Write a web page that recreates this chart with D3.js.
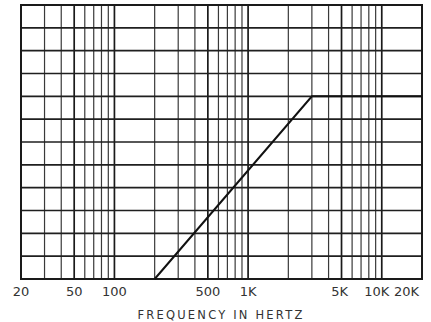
<!DOCTYPE html>
<html><head><meta charset="utf-8">
<script src="https://cdn.jsdelivr.net/npm/d3@7"></script>
<style>html,body{margin:0;padding:0;background:#fff;}svg{display:block;}</style>
</head><body>
<script>
const gridFreqs = [20,30,40,50,60,70,80,90,100,200,300,400,500,600,700,800,900,1000,2000,3000,4000,5000,6000,7000,8000,9000,10000,20000];
const labelFreqs = [20,50,100,500,1000,5000,10000,20000];
const labelTexts = ["20","50","100","500","1K","5K","10K","20K"];
const gridLevels = [0,1,2,3,4,5,6,7,8,9,10,11,12];
const curveFreq = [200,3000,20000];
const curveLevel = [0,8,8];
const axisTitle = "FREQUENCY IN HERTZ";

const W = 431, H = 322;
const m = {left:21, right:9, top:5, bottom:43};
const svg = d3.select("body").append("svg").attr("width",W).attr("height",H);
const x = d3.scaleLog().domain([20,20000]).range([m.left, W-m.right]);
const y = d3.scaleLinear().domain([0,12]).range([H-m.bottom, m.top]);

const g = svg.append("g");
// vertical grid
g.selectAll("line.v").data(gridFreqs).enter().append("line")
  .attr("x1",d=>x(d)).attr("x2",d=>x(d))
  .attr("y1",y(0)).attr("y2",y(12))
  .attr("stroke",d=>labelFreqs.includes(d)?"#1a1a1a":"#3a3a3a")
  .attr("stroke-width",d=>labelFreqs.includes(d)?1.7:1.2);
// horizontal grid
g.selectAll("line.h").data(gridLevels).enter().append("line")
  .attr("x1",x(20)).attr("x2",x(20000))
  .attr("y1",d=>y(d)).attr("y2",d=>y(d))
  .attr("stroke","#1f1f1f").attr("stroke-width",1.6);
// border
svg.append("rect").attr("x",x(20)).attr("y",y(12))
  .attr("width",x(20000)-x(20)).attr("height",y(0)-y(12))
  .attr("fill","none").attr("stroke","#1a1a1a").attr("stroke-width",2);

// curve
const line = d3.line().x((d,i)=>x(curveFreq[i])).y((d,i)=>y(curveLevel[i]));
svg.append("path").datum(curveFreq).attr("d",line)
  .attr("fill","none").attr("stroke","#111").attr("stroke-width",2);

// tick labels (last one kept inside the frame, as in the reference)
const lastIdx = labelFreqs.length - 1;
svg.selectAll("text.tick").data(labelFreqs).enter().append("text")
  .attr("x",(d,i)=> i===lastIdx ? x(d)-3 : (i===lastIdx-1 ? x(d)-5 : (i===lastIdx-2 ? x(d)-2 : x(d))))
  .attr("y",y(0)+17)
  .attr("text-anchor",(d,i)=> i===lastIdx ? "end" : "middle")
  .attr("font-family","DejaVu Sans").attr("font-size",13)
  .attr("fill","#333")
  .text((d,i)=>labelTexts[i]);

svg.append("text").attr("x",221).attr("y",H-3)
  .attr("text-anchor","middle")
  .attr("font-family","DejaVu Sans").attr("font-size",11.5)
  .attr("letter-spacing",2.2)
  .attr("fill","#333").text(axisTitle);
</script>
</body></html>
